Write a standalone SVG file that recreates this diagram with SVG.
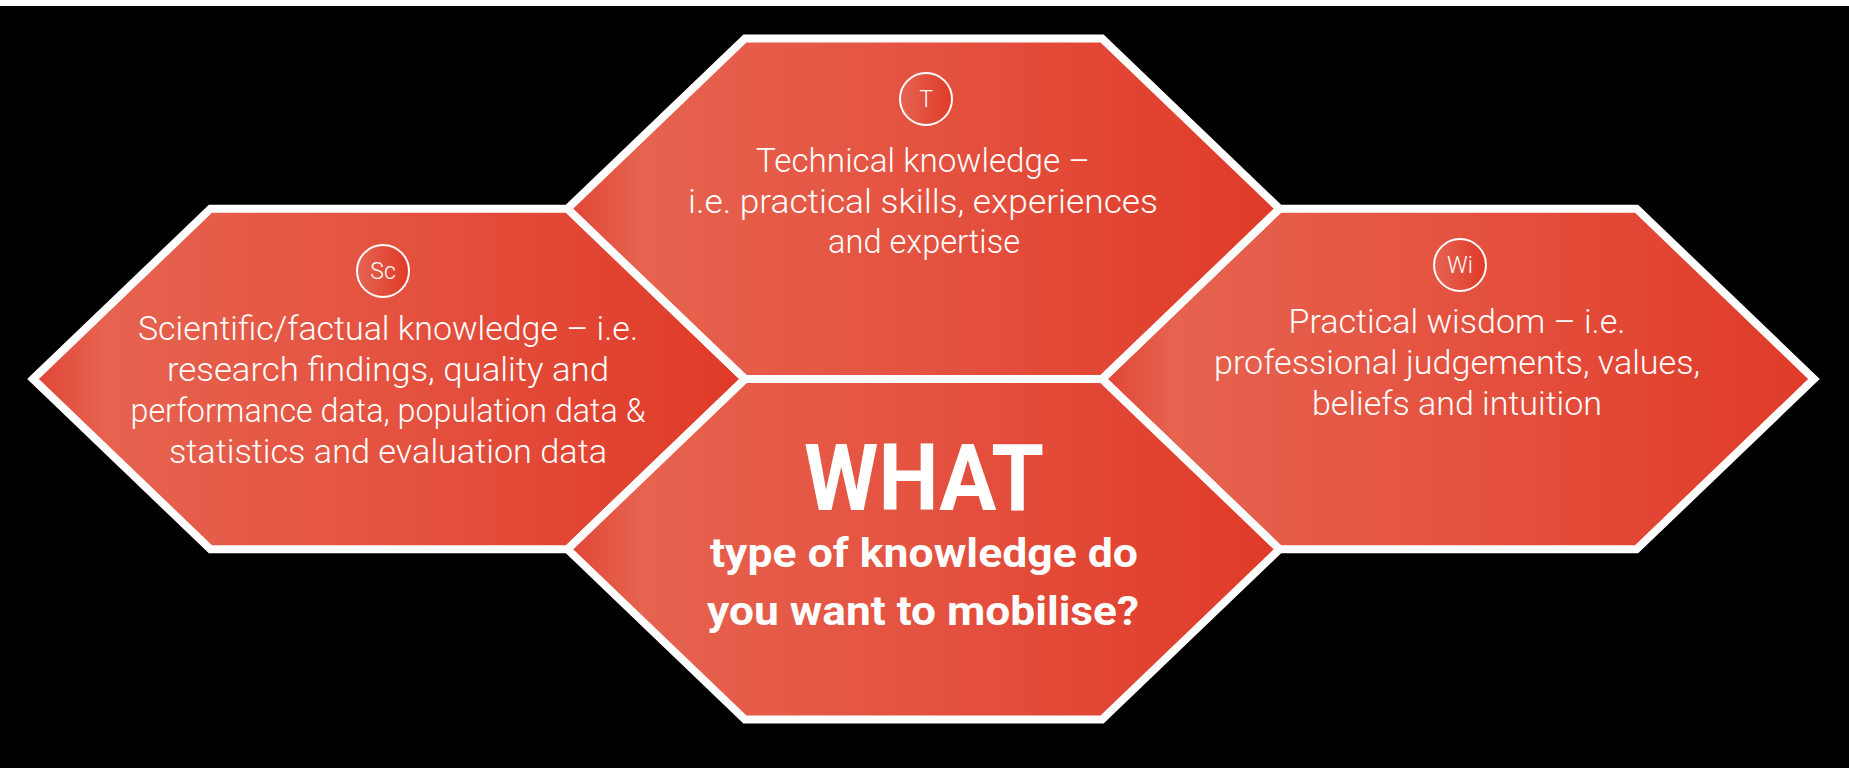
<svg xmlns="http://www.w3.org/2000/svg" width="1849" height="768" viewBox="0 0 1849 768">
  <defs>
    <linearGradient id="hexFill" x1="0" y1="0" x2="1" y2="0">
      <stop offset="0" stop-color="#E04535"/>
      <stop offset="0.1" stop-color="#E6634F"/>
      <stop offset="0.55" stop-color="#E4503E"/>
      <stop offset="1" stop-color="#E03A28"/>
    </linearGradient>
    <linearGradient id="circFill" x1="0" y1="0" x2="1" y2="0">
      <stop offset="0" stop-color="#E66452"/>
      <stop offset="1" stop-color="#E03A28"/>
    </linearGradient>
    <style>
      .hex { fill: url(#hexFill); stroke: #FFFFFF; stroke-width: 8; stroke-linejoin: miter; }
      .badge { fill: url(#circFill); stroke: #FFFFFF; stroke-width: 2; }
      .badge-t { font-family: Roboto, "Liberation Sans", sans-serif; font-weight: 300; font-size: 23px; fill: #FFFFFF; text-anchor: middle; }
      .body { font-family: Roboto, "Liberation Sans", sans-serif; font-weight: 300; font-size: 34px; fill: #FFFFFF; text-anchor: middle; }
      .big { font-family: Roboto, "Liberation Sans", sans-serif; font-weight: 700; font-size: 92px; fill: #FFFFFF; text-anchor: middle; }
      .q { font-family: Roboto, "Liberation Sans", sans-serif; font-weight: 700; font-size: 41px; fill: #FFFFFF; text-anchor: middle; }
    </style>
  </defs>
  <rect x="0" y="0" width="1849" height="768" fill="#FFFFFF"/>
  <rect x="0" y="6" width="1849" height="762" fill="#000000"/>

  <g id="connectors"></g>

  <g id="node-scientific">
    <polygon class="hex" points="33,379 210.5,208.7 567.5,208.7 745,379 567.5,549.3 210.5,549.3"/>
    <circle class="badge" cx="383" cy="271" r="26"/>
    <text class="badge-t" x="383" y="279">Sc</text>
    <text class="body" x="388" y="340" textLength="500" lengthAdjust="spacingAndGlyphs">Scientific/factual knowledge – i.e.</text>
    <text class="body" x="388" y="381" textLength="442" lengthAdjust="spacingAndGlyphs">research findings, quality and</text>
    <text class="body" x="388" y="422" textLength="515" lengthAdjust="spacingAndGlyphs">performance data, population data &amp;</text>
    <text class="body" x="388" y="463" textLength="438" lengthAdjust="spacingAndGlyphs">statistics and evaluation data</text>
  </g>

  <g id="node-wisdom">
    <polygon class="hex" points="1102,379 1279.5,208.7 1636.5,208.7 1814,379 1636.5,549.3 1279.5,549.3"/>
    <circle class="badge" cx="1460" cy="265" r="26"/>
    <text class="badge-t" x="1460" y="273">Wi</text>
    <text class="body" x="1457" y="333" textLength="337" lengthAdjust="spacingAndGlyphs">Practical wisdom – i.e.</text>
    <text class="body" x="1457" y="374" textLength="486" lengthAdjust="spacingAndGlyphs">professional judgements, values,</text>
    <text class="body" x="1457" y="415" textLength="290" lengthAdjust="spacingAndGlyphs">beliefs and intuition</text>
  </g>

  <g id="node-technical">
    <polygon class="hex" points="567.5,208.7 745,38.4 1102,38.4 1279.5,208.7 1102,379 745,379"/>
    <circle class="badge" cx="926" cy="99" r="26"/>
    <text class="badge-t" x="926" y="107">T</text>
    <text class="body" x="923" y="172" textLength="334" lengthAdjust="spacingAndGlyphs">Technical knowledge –</text>
    <text class="body" x="923" y="213" textLength="470" lengthAdjust="spacingAndGlyphs">i.e. practical skills, experiences</text>
    <text class="body" x="924" y="253" textLength="192" lengthAdjust="spacingAndGlyphs">and expertise</text>
  </g>

  <g id="node-what">
    <polygon class="hex" points="567.5,549.3 745,379 1102,379 1279.5,549.3 1102,719.6 745,719.6"/>
    <text class="big" x="924" y="510" textLength="240" lengthAdjust="spacingAndGlyphs">WHAT</text>
    <text class="q" x="924" y="567" textLength="428" lengthAdjust="spacingAndGlyphs">type of knowledge do</text>
    <text class="q" x="923" y="625" textLength="432" lengthAdjust="spacingAndGlyphs">you want to mobilise?</text>
  </g>
</svg>
